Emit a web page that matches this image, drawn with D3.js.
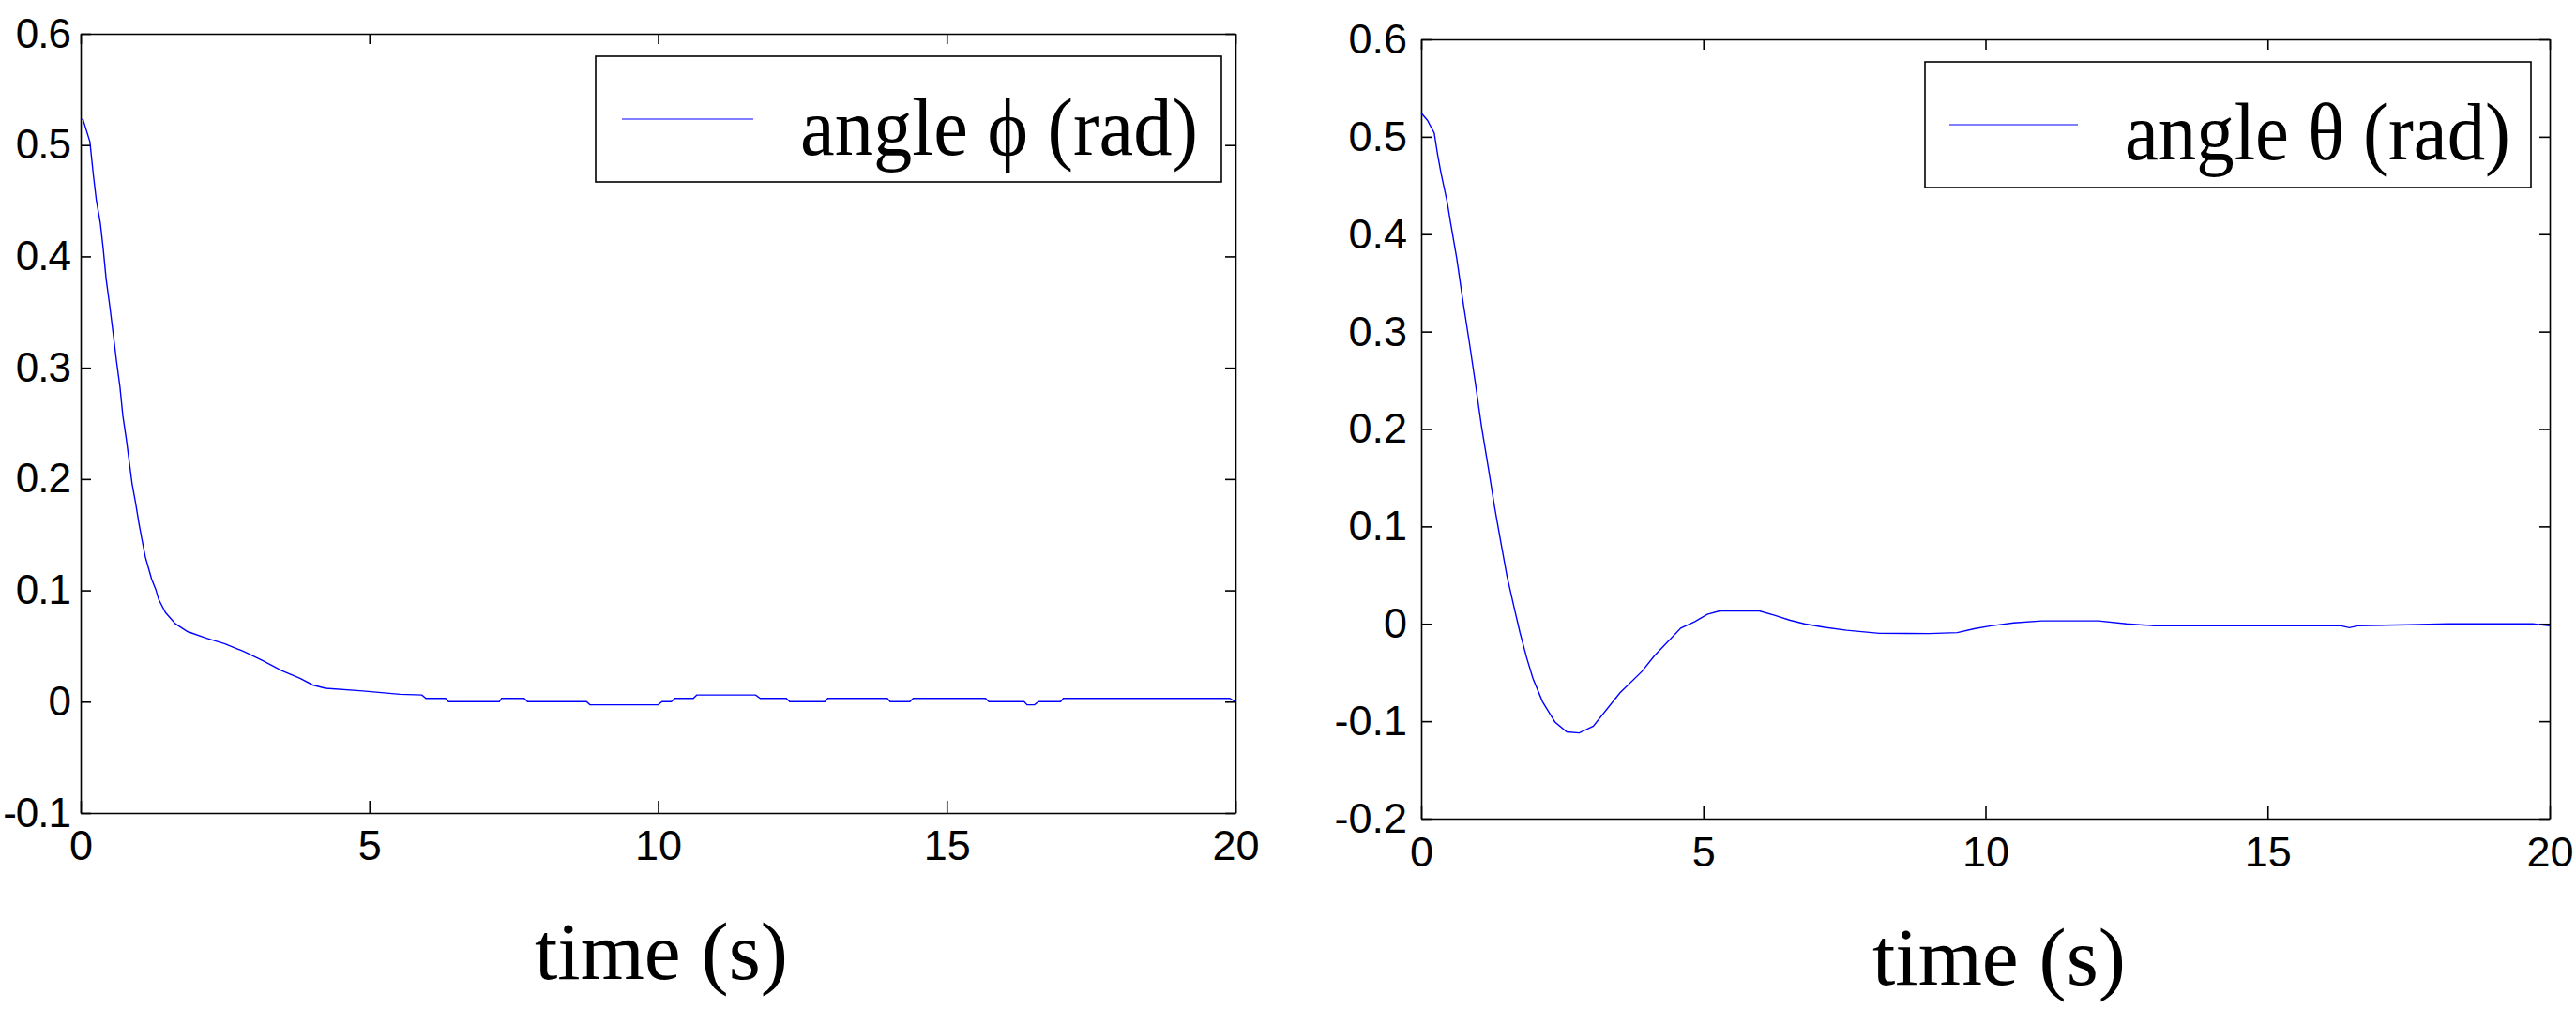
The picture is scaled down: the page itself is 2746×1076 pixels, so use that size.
<!DOCTYPE html>
<html>
<head>
<meta charset="utf-8">
<script src="https://cdn.jsdelivr.net/npm/d3@7"></script>
<style>
  body { margin: 0; background: #fff; }
  svg { display: block; }
</style>
</head>
<body>
<div id="chart"></div>
<script>
// ANGLE RESPONSE CHARTS //
// two panels: roll angle (phi) on the left, pitch angle (theta) on the right

// phi data (left panel)
const phiTime = [0.02, 0.04, 0.16, 0.22, 0.27, 0.34, 0.39, 0.44, 0.50, 0.56, 0.62, 0.68, 0.73, 0.79, 0.84, 0.89,
    0.95, 1.01, 1.06, 1.12, 1.18, 1.23, 1.30, 1.35, 1.47, 1.64, 1.85, 2.18, 2.50, 2.83, 3.15, 3.48, 3.80, 4.02,
    4.24, 4.89, 5.53, 5.91, 5.98, 6.32, 6.37, 7.25, 7.29, 7.68, 7.74, 8.76, 8.82, 10.0, 10.07, 10.23, 10.29,
    10.61, 10.67, 11.69, 11.77, 12.22, 12.28, 12.89, 12.94, 13.97, 14.02, 14.36, 14.42, 15.67, 15.73, 16.34,
    16.39, 16.52, 16.59, 16.97, 17.02, 19.9, 20];
const phiValue = [0.523, 0.523, 0.503, 0.473, 0.451, 0.430, 0.407, 0.380, 0.357, 0.332, 0.306, 0.283, 0.257, 0.236,
    0.216, 0.196, 0.179, 0.160, 0.146, 0.130, 0.119, 0.110, 0.101, 0.092, 0.080, 0.070, 0.063, 0.057, 0.052, 0.045,
    0.037, 0.028, 0.021, 0.015, 0.012, 0.0096, 0.0067, 0.006, 0.003, 0.003, 0, 0, 0.003, 0.003, 0, 0, -0.0028,
    -0.0028, 0, 0, 0.003, 0.003, 0.006, 0.006, 0.003, 0.003, 0, 0, 0.003, 0.003, 0, 0, 0.003, 0.003, 0, 0,
    -0.0028, -0.0028, 0, 0, 0.003, 0.003, 0];

// theta data (right panel)
const thetaTime = [0, 0.11, 0.23, 0.29, 0.35, 0.46, 0.52, 0.63, 0.74, 0.85, 0.96, 1.07, 1.19, 1.30, 1.41, 1.52,
    1.64, 1.75, 1.87, 1.98, 2.15, 2.37, 2.58, 2.80, 3.05, 3.52, 3.91, 4.13, 4.60, 4.85, 5.07, 5.29, 5.99, 6.26,
    6.54, 6.79, 7.15, 7.54, 8.12, 9.0, 9.5, 9.8, 10.1, 10.5, 11.0, 12.0, 12.5, 13.0, 15.0, 16.3, 16.45, 16.6,
    17.5, 18.2, 19.7, 20];
const thetaValue = [0.5245, 0.517, 0.504, 0.482, 0.463, 0.433, 0.412, 0.375, 0.331, 0.290, 0.247, 0.202, 0.160,
    0.120, 0.084, 0.049, 0.0185, -0.0089, -0.035, -0.056, -0.080, -0.1008, -0.111, -0.112, -0.105, -0.071, -0.049,
    -0.033, -0.0044, 0.0022, 0.0097, 0.0132, 0.0132, 0.0088, 0.0036, 0, -0.0036, -0.0066, -0.0097, -0.010, -0.009,
    -0.005, -0.002, 0.001, 0.003, 0.003, 0.000, -0.002, -0.002, -0.002, -0.004, -0.002, -0.001, 0.000, 0.000, -0.002];

// ticks and labels
const xTicks = [0, 5, 10, 15, 20];
const xTickLabels = ["0", "5", "10", "15", "20"];
const phiYTicks = [-0.1, 0, 0.1, 0.2, 0.3, 0.4, 0.5, 0.6];
const phiYTickLabels = ["-0.1", "0", "0.1", "0.2", "0.3", "0.4", "0.5", "0.6"];
const thetaYTicks = [-0.2, -0.1, 0, 0.1, 0.2, 0.3, 0.4, 0.5, 0.6];
const thetaYTickLabels = ["-0.2", "-0.1", "0", "0.1", "0.2", "0.3", "0.4", "0.5", "0.6"];

const phiLegend = "angle \u03D5 (rad)";
const thetaLegend = "angle \u03B8 (rad)";
const xLabel = "time (s)";

const svg = d3.select("#chart")
    .append("svg")
    .attr("width", 2746)
    .attr("height", 1076)
    .style("background", "#fff");

function createPlot(p) {
    const x = d3.scaleLinear().domain([0, 20]).range([p.left, p.right]);
    const y = d3.scaleLinear().domain(p.yDomain).range([p.bottom, p.top]);

    const g = svg.append("g");

    // label lookups
    const xFmt = (d) => xTickLabels[xTicks.indexOf(d)];
    const yFmt = (d) => p.yLabels[p.yTicks.indexOf(d)];

    // bottom axis with labels
    g.append("g")
        .attr("transform", `translate(0,${p.bottom})`)
        .call(d3.axisBottom(x).tickValues(xTicks).tickFormat(xFmt)
            .tickSizeInner(-13).tickSizeOuter(0).tickPadding(p.xPad));
    // top axis, ticks only
    g.append("g")
        .attr("transform", `translate(0,${p.top})`)
        .call(d3.axisTop(x).tickValues(xTicks).tickFormat("")
            .tickSizeInner(-11).tickSizeOuter(0));
    // left axis with labels
    const yAxis = g.append("g")
        .attr("transform", `translate(${p.left},0)`)
        .call(d3.axisLeft(y).tickValues(p.yTicks).tickFormat(yFmt)
            .tickSizeInner(-11).tickSizeOuter(0).tickPadding(p.yPad));
    // right axis, ticks only
    g.append("g")
        .attr("transform", `translate(${p.right},0)`)
        .call(d3.axisRight(y).tickValues(p.yTicks).tickFormat("")
            .tickSizeInner(-11).tickSizeOuter(0));

    g.selectAll(".domain, .tick line")
        .attr("stroke", "#000")
        .attr("stroke-width", 1.6);
    g.selectAll(".tick text")
        .attr("fill", "#000")
        .style("font-family", "'Liberation Sans', Arial, sans-serif")
        .style("font-size", "45px");
    // the left panel's labels sit right at the page edge, keep them a bit tighter
    yAxis.selectAll(".tick text")
        .style("font-size", p.yFont + "px")
        .style("letter-spacing", p.yFont < 45 ? "-1px" : null);

    // data line
    const pts = p.time.map((t, i) => [t, p.values[i]]);
    g.append("path")
        .datum(pts)
        .attr("fill", "none")
        .attr("stroke", "#0000ff")
        .attr("stroke-width", 1.4)
        .attr("d", d3.line().x((d) => x(d[0])).y((d) => y(d[1])));

    // legend
    const lg = p.legend;
    g.append("rect")
        .attr("x", lg.x).attr("y", lg.y)
        .attr("width", lg.w).attr("height", lg.h)
        .attr("fill", "#fff")
        .attr("stroke", "#000")
        .attr("stroke-width", 1.6);
    g.append("line")
        .attr("x1", lg.lineX1).attr("x2", lg.lineX2)
        .attr("y1", lg.lineY).attr("y2", lg.lineY)
        .attr("stroke", "#0000ff")
        .attr("stroke-width", 1.2);
    g.append("text")
        .attr("x", lg.textX).attr("y", lg.textY)
        .attr("textLength", lg.textW)
        .attr("lengthAdjust", "spacingAndGlyphs")
        .style("font-family", "'Liberation Serif', 'Times New Roman', serif")
        .style("font-size", "86px")
        .text(lg.label);

    // x label
    g.append("text")
        .attr("x", p.xLabelX).attr("y", p.xLabelY)
        .attr("textLength", 270)
        .attr("lengthAdjust", "spacingAndGlyphs")
        .style("font-family", "'Liberation Serif', 'Times New Roman', serif")
        .style("font-size", "86px")
        .text(xLabel);
}

createPlot({
    left: 86, right: 1317, top: 36, bottom: 867,
    yDomain: [-0.1, 0.6], yTicks: phiYTicks, yLabels: phiYTickLabels,
    xPad: 18, yPad: 11, yFont: 44,
    time: phiTime, values: phiValue,
    legend: { x: 635, y: 60, w: 667, h: 134, lineX1: 663, lineX2: 803, lineY: 127,
        textX: 853, textY: 165, textW: 424, label: phiLegend },
    xLabelX: 570, xLabelY: 1044
});

createPlot({
    left: 1515, right: 2718, top: 42, bottom: 873,
    yDomain: [-0.2, 0.6], yTicks: thetaYTicks, yLabels: thetaYTickLabels,
    xPad: 19, yPad: 15, yFont: 45,
    time: thetaTime, values: thetaValue,
    legend: { x: 2052, y: 66, w: 646, h: 134, lineX1: 2078, lineX2: 2215, lineY: 133,
        textX: 2265, textY: 170, textW: 411, label: thetaLegend },
    xLabelX: 1996, xLabelY: 1050
});
</script>
</body>
</html>
